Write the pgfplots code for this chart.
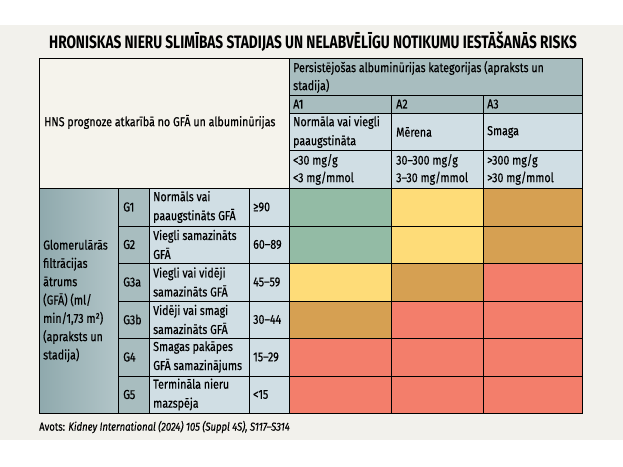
\documentclass[border=0pt]{standalone}
\usepackage{pgfplots}
\pgfplotsset{compat=1.18}
\usepackage{fontspec}
\setmainfont{Fira Sans}[FakeStretch=0.82, FakeBold=0.35]
\newfontfamily\titlefont{Fira Sans}[FakeStretch=0.76]
\definecolor{bg}{HTML}{F2F1EC}
\definecolor{hdr}{HTML}{A8BDBF}
\definecolor{lite}{HTML}{D0DEE4}
\definecolor{cream}{HTML}{F5F3EC}
\definecolor{leftA}{HTML}{8FA9AD}
\definecolor{leftB}{HTML}{B2C5C8}
\definecolor{rgreen}{HTML}{93BBA5}
\definecolor{ryellow}{HTML}{FEDC78}
\definecolor{rorange}{HTML}{D6A052}
\definecolor{rred}{HTML}{F37E6B}
\begin{document}
\begin{tikzpicture}
\begin{axis}[width=623pt,height=466pt,scale only axis,
  xmin=0,xmax=623,ymin=0,ymax=466,y dir=reverse,
  hide axis,clip=false,no markers,
  every axis plot/.append style={line width=0.9pt, line join=miter},
  nodes={inner sep=0pt, font=\fontsize{13}{19}\selectfont, align=left, anchor=west}]
% page and background
\addplot[draw=none,fill=white] coordinates {(0,0) (623,0) (623,466) (0,466)} --cycle;
\addplot[draw=none,fill=bg] coordinates {(0,25) (623,25) (623,440) (0,440)} --cycle;
% header cells
\addplot[draw=black,fill=cream] coordinates {(39,58) (289,58) (289,188) (39,188)} --cycle;
\addplot[draw=black,fill=hdr] coordinates {(289,58) (582,58) (582,95) (289,95)} --cycle;
\addplot[draw=black,fill=hdr] coordinates {(289,95) (391,95) (391,113) (289,113)} --cycle;
\addplot[draw=black,fill=hdr] coordinates {(391,95) (483,95) (483,113) (391,113)} --cycle;
\addplot[draw=black,fill=hdr] coordinates {(483,95) (582,95) (582,113) (483,113)} --cycle;
\addplot[draw=black,fill=lite] coordinates {(289,113) (391,113) (391,150) (289,150)} --cycle;
\addplot[draw=black,fill=lite] coordinates {(391,113) (483,113) (483,150) (391,150)} --cycle;
\addplot[draw=black,fill=lite] coordinates {(483,113) (582,113) (582,150) (483,150)} --cycle;
\addplot[draw=black,fill=lite] coordinates {(289,150) (391,150) (391,188) (289,188)} --cycle;
\addplot[draw=black,fill=lite] coordinates {(391,150) (483,150) (483,188) (391,188)} --cycle;
\addplot[draw=black,fill=lite] coordinates {(483,150) (582,150) (582,188) (483,188)} --cycle;
% left block
\addplot[draw=black,left color=leftA,right color=leftB] coordinates {(39,188) (118,188) (118,413) (39,413)} --cycle;
% G code column
\addplot[draw=black,fill=hdr] coordinates {(118,188) (149,188) (149,226) (118,226)} --cycle;
\addplot[draw=black,fill=hdr] coordinates {(118,226) (149,226) (149,263) (118,263)} --cycle;
\addplot[draw=black,fill=hdr] coordinates {(118,263) (149,263) (149,301) (118,301)} --cycle;
\addplot[draw=black,fill=hdr] coordinates {(118,301) (149,301) (149,338) (118,338)} --cycle;
\addplot[draw=black,fill=hdr] coordinates {(118,338) (149,338) (149,376) (118,376)} --cycle;
\addplot[draw=black,fill=hdr] coordinates {(118,376) (149,376) (149,413) (118,413)} --cycle;
% description column
\addplot[draw=black,fill=lite] coordinates {(149,188) (249,188) (249,226) (149,226)} --cycle;
\addplot[draw=black,fill=lite] coordinates {(149,226) (249,226) (249,263) (149,263)} --cycle;
\addplot[draw=black,fill=lite] coordinates {(149,263) (249,263) (249,301) (149,301)} --cycle;
\addplot[draw=black,fill=lite] coordinates {(149,301) (249,301) (249,338) (149,338)} --cycle;
\addplot[draw=black,fill=lite] coordinates {(149,338) (249,338) (249,376) (149,376)} --cycle;
\addplot[draw=black,fill=lite] coordinates {(149,376) (249,376) (249,413) (149,413)} --cycle;
% range column
\addplot[draw=black,fill=lite] coordinates {(249,188) (289,188) (289,226) (249,226)} --cycle;
\addplot[draw=black,fill=lite] coordinates {(249,226) (289,226) (289,263) (249,263)} --cycle;
\addplot[draw=black,fill=lite] coordinates {(249,263) (289,263) (289,301) (249,301)} --cycle;
\addplot[draw=black,fill=lite] coordinates {(249,301) (289,301) (289,338) (249,338)} --cycle;
\addplot[draw=black,fill=lite] coordinates {(249,338) (289,338) (289,376) (249,376)} --cycle;
\addplot[draw=black,fill=lite] coordinates {(249,376) (289,376) (289,413) (249,413)} --cycle;
% risk heat map: G1
\addplot[draw=black,fill=rgreen]  coordinates {(289,188) (391,188) (391,226) (289,226)} --cycle;
\addplot[draw=black,fill=ryellow] coordinates {(391,188) (483,188) (483,226) (391,226)} --cycle;
\addplot[draw=black,fill=rorange] coordinates {(483,188) (582,188) (582,226) (483,226)} --cycle;
% G2
\addplot[draw=black,fill=rgreen]  coordinates {(289,226) (391,226) (391,263) (289,263)} --cycle;
\addplot[draw=black,fill=ryellow] coordinates {(391,226) (483,226) (483,263) (391,263)} --cycle;
\addplot[draw=black,fill=rorange] coordinates {(483,226) (582,226) (582,263) (483,263)} --cycle;
% G3a
\addplot[draw=black,fill=ryellow] coordinates {(289,263) (391,263) (391,301) (289,301)} --cycle;
\addplot[draw=black,fill=rorange] coordinates {(391,263) (483,263) (483,301) (391,301)} --cycle;
\addplot[draw=black,fill=rred]    coordinates {(483,263) (582,263) (582,301) (483,301)} --cycle;
% G3b
\addplot[draw=black,fill=rorange] coordinates {(289,301) (391,301) (391,338) (289,338)} --cycle;
\addplot[draw=black,fill=rred]    coordinates {(391,301) (483,301) (483,338) (391,338)} --cycle;
\addplot[draw=black,fill=rred]    coordinates {(483,301) (582,301) (582,338) (483,338)} --cycle;
% G4
\addplot[draw=black,fill=rred] coordinates {(289,338) (391,338) (391,376) (289,376)} --cycle;
\addplot[draw=black,fill=rred] coordinates {(391,338) (483,338) (483,376) (391,376)} --cycle;
\addplot[draw=black,fill=rred] coordinates {(483,338) (582,338) (582,376) (483,376)} --cycle;
% G5
\addplot[draw=black,fill=rred] coordinates {(289,376) (391,376) (391,413) (289,413)} --cycle;
\addplot[draw=black,fill=rred] coordinates {(391,376) (483,376) (483,413) (391,413)} --cycle;
\addplot[draw=black,fill=rred] coordinates {(483,376) (582,376) (582,413) (483,413)} --cycle;
% texts
\node[anchor=center,font=\titlefont\bfseries\fontsize{18}{20}\selectfont] at (axis cs:313,42) {HRONISKAS NIERU SLIMĪBAS STADIJAS UN NELABVĒLĪGU NOTIKUMU IESTĀŠANĀS RISKS};
\node at (axis cs:44,122) {HNS prognoze atkarībā no GFĀ un albuminūrijas};
\node[font=\fontsize{13}{18}\selectfont] at (axis cs:293,77) {Persistējošas albuminūrijas kategorijas (apraksts un\\stadija)};
\node at (axis cs:293,104) {A1};
\node at (axis cs:396,104) {A2};
\node at (axis cs:487,104) {A3};
\node at (axis cs:293,132) {Normāla vai viegli\\paaugstināta};
\node at (axis cs:396,132) {Mērena};
\node at (axis cs:487,132) {Smaga};
\node[font=\fontsize{13}{17.5}\selectfont] at (axis cs:293,169.5) {<30 mg/g\\<3 mg/mmol};
\node[font=\fontsize{13}{17.5}\selectfont] at (axis cs:396,169.5) {30–300 mg/g\\3–30 mg/mmol};
\node[font=\fontsize{13}{17.5}\selectfont] at (axis cs:487,169.5) {>300 mg/g\\>30 mg/mmol};
\node[font=\fontsize{13}{18.3}\selectfont] at (axis cs:43,301) {Glomerulārās\\filtrācijas\\ātrums\\(GFĀ) (ml/\\min/1,73 m²)\\(apraksts un\\stadija)};
\node at (axis cs:123,207) {G1};
\node at (axis cs:123,244.5) {G2};
\node at (axis cs:123,282) {G3a};
\node at (axis cs:123,319.5) {G3b};
\node at (axis cs:123,357) {G4};
\node at (axis cs:123,394.5) {G5};
\node at (axis cs:153,207) {Normāls vai\\paaugstināts GFĀ};
\node at (axis cs:153,244.5) {Viegli samazināts\\GFĀ};
\node at (axis cs:153,282) {Viegli vai vidēji\\samazināts GFĀ};
\node at (axis cs:153,319.5) {Vidēji vai smagi\\samazināts GFĀ};
\node at (axis cs:153,357) {Smagas pakāpes\\GFĀ samazinājums};
\node at (axis cs:153,394.5) {Termināla nieru\\mazspēja};
\node at (axis cs:253,207) {≥90};
\node at (axis cs:253,244.5) {60–89};
\node at (axis cs:253,282) {45–59};
\node at (axis cs:253,319.5) {30–44};
\node at (axis cs:253,357) {15–29};
\node at (axis cs:253,394.5) {<15};
\node[font=\fontsize{11.6}{13}\selectfont] at (axis cs:39,427) {Avots: \textit{Kidney International (2024) 105 (Suppl 4S), S117–S314}};
\end{axis}
\end{tikzpicture}
\end{document}
